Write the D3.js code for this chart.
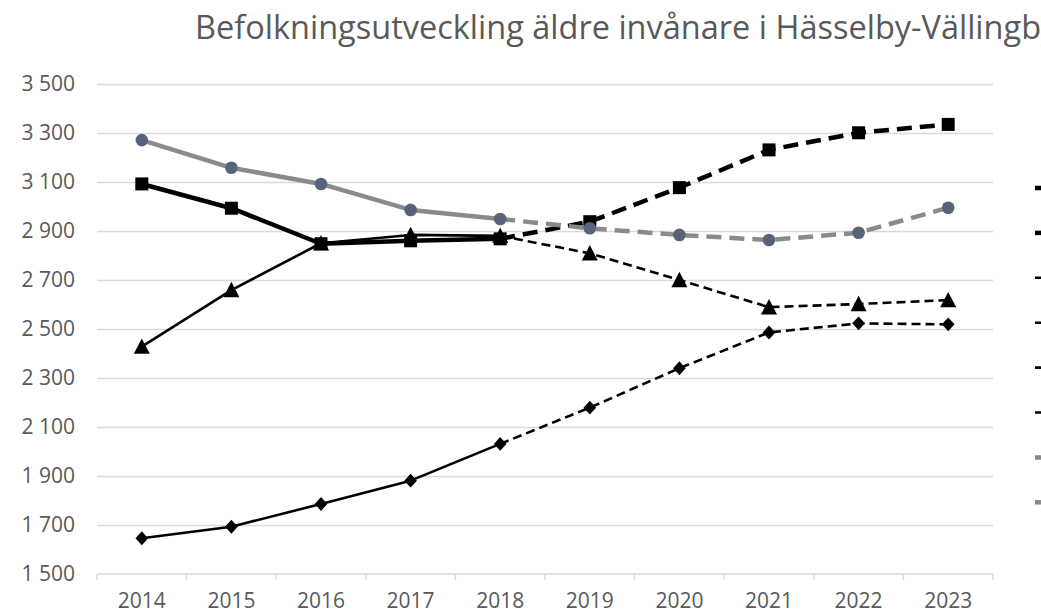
<!DOCTYPE html>
<html>
<head>
<meta charset="utf-8">
<script src="https://cdn.jsdelivr.net/npm/d3@7"></script>
<style>
  body { margin: 0; background: #fff; }
  svg { display: block; font-family: "Open Sans", sans-serif; }
</style>
</head>
<body>
<div id="chart"></div>
<script>
// data
const years = [2014, 2015, 2016, 2017, 2018, 2019, 2020, 2021, 2022, 2023];
const squareVals   = [3092, 2993, 2848, 2860, 2868, 2938, 3077, 3231, 3301, 3335];
const triangleVals = [2428, 2659, 2850, 2884, 2880, 2809, 2700, 2589, 2602, 2618];
const diamondVals  = [1646, 1693, 1786, 1881, 2031, 2179, 2340, 2486, 2523, 2519];
const circleVals   = [3271, 3158, 3092, 2986, 2949, 2911, 2884, 2863, 2893, 2995];
const yTicks = [1500, 1700, 1900, 2100, 2300, 2500, 2700, 2900, 3100, 3300, 3500];
const legendNames = ['65–69 år', '65–69 år prognos', '70–74 år', '70–74 år prognos',
                     '75–79 år', '75–79 år prognos', '80+ år', '80+ år prognos'];
const lastActual = 2018;

const width = 1041, height = 614;
const margin = { top: 84, right: 48, bottom: 40, left: 97 };

let svg = d3.select('#chart').append('svg')
    .attr('width', width)
    .attr('height', height);

let x = d3.scaleBand()
    .domain(years)
    .range([margin.left, width - margin.right]);
let y = d3.scaleLinear()
    .domain([1500, 3500])
    .range([height - margin.bottom, margin.top]);
const cx = d => x(d) + x.bandwidth() / 2;

const sv = d3.formatLocale({ thousands: ' ', grouping: [3], decimal: ',', currency: ['', ''] });

// title (runs past the right edge, as in the original)
svg.append('text')
    .attr('x', 195)
    .attr('y', 39)
    .attr('font-size', 32.5)
    .attr('fill', '#595959')
    .text('Befolkningsutveckling äldre invånare i Hässelby-Vällingby');

// gridlines
svg.append('g')
    .attr('transform', `translate(${margin.left},0)`)
    .call(d3.axisLeft(y).tickValues(yTicks.slice(1)).tickSize(-(width - margin.left - margin.right)).tickFormat(''))
    .call(g => g.select('.domain').remove())
    .call(g => g.selectAll('line').attr('stroke', '#d9d9d9').attr('stroke-width', 1.3));

// y labels
svg.append('g')
    .attr('transform', `translate(${margin.left},0)`)
    .call(d3.axisLeft(y).tickValues(yTicks).tickSize(0).tickPadding(22).tickFormat(sv.format(',')))
    .call(g => g.select('.domain').remove())
    .call(g => g.selectAll('text').attr('font-size', 21).attr('fill', '#595959').attr('font-family', '"Open Sans", sans-serif'));

// x axis baseline with ticks between categories
let xAxis = svg.append('g').attr('transform', `translate(0,${y(1500)})`);
xAxis.append('line')
    .attr('x1', margin.left).attr('x2', width - margin.right)
    .attr('stroke', '#d9d9d9').attr('stroke-width', 1.3);
xAxis.selectAll('.tk')
    .data(years.concat(['end']))
    .join('line')
    .attr('class', 'tk')
    .attr('x1', d => d === 'end' ? width - margin.right : x(d))
    .attr('x2', d => d === 'end' ? width - margin.right : x(d))
    .attr('y1', 0).attr('y2', 6)
    .attr('stroke', '#d9d9d9').attr('stroke-width', 1.3);
xAxis.selectAll('.lbl')
    .data(years)
    .join('text')
    .attr('class', 'lbl')
    .attr('x', d => cx(d))
    .attr('y', 34)
    .attr('text-anchor', 'middle')
    .attr('font-size', 21)
    .attr('fill', '#595959')
    .text(d => d);

// marker shapes
const squareSym = { draw(ctx, s) { const h = Math.sqrt(s) / 2; ctx.rect(-h, -h, 2 * h, 2 * h); } };
const diamondSym = { draw(ctx, s) {
    const w = Math.sqrt(s) / 2, hh = w * 1.1;
    ctx.moveTo(0, -hh); ctx.lineTo(w, 0); ctx.lineTo(0, hh); ctx.lineTo(-w, 0); ctx.closePath(); } };
const triSym = { draw(ctx, s) {
    const w = Math.sqrt(s) / 2, hh = w * 0.9;
    ctx.moveTo(0, -hh - 1); ctx.lineTo(w, hh); ctx.lineTo(-w, hh); ctx.closePath(); } };

const series = [
  { vals: triangleVals, color: '#000', width: 2.6, dash: '9,5', sym: triSym, size: 256, fill: '#000' },
  { vals: diamondVals, color: '#000', width: 2.6, dash: '9,5', sym: diamondSym, size: 160, fill: '#000' },
  { vals: squareVals, color: '#000', width: 4.5, dash: '15,8', sym: squareSym, size: 169, fill: '#000' },
  { vals: circleVals, color: '#8a8a8a', width: 4.5, dash: '15,8', sym: d3.symbolCircle, size: 125, fill: '#58637a' }
];

const line = d3.line().x(d => cx(d.year)).y(d => y(d.v));

series.forEach(s => {
    const pts = years.map((yr, i) => ({ year: yr, v: s.vals[i] }));
    const actual = pts.filter(d => d.year <= lastActual);
    const prog = pts.filter(d => d.year >= lastActual);
    svg.append('path').datum(actual)
        .attr('d', line).attr('fill', 'none')
        .attr('stroke', s.color).attr('stroke-width', s.width)
        .attr('stroke-linejoin', 'round');
    svg.append('path').datum(prog)
        .attr('d', line).attr('fill', 'none')
        .attr('stroke', s.color).attr('stroke-width', s.width)
        .attr('stroke-dasharray', s.dash);
    svg.selectAll(null).data(pts)
        .join('path')
        .attr('transform', d => `translate(${cx(d.year)},${y(d.v)})`)
        .attr('d', d3.symbol().type(s.sym).size(s.size))
        .attr('fill', s.fill);
});

// legend (mostly outside the visible area)
const legendStyles = [
  { color: '#000', width: 4.5, dash: null },
  { color: '#000', width: 4.5, dash: '15,8' },
  { color: '#000', width: 2.6, dash: null },
  { color: '#000', width: 2.6, dash: '9,5' },
  { color: '#000', width: 2.6, dash: null },
  { color: '#000', width: 2.6, dash: '9,5' },
  { color: '#8a8a8a', width: 4.5, dash: null },
  { color: '#8a8a8a', width: 4.5, dash: '15,8' }
];
let legend = svg.append('g').attr('transform', 'translate(1035,188)');
legendNames.forEach((name, i) => {
    const st = legendStyles[i];
    const row = legend.append('g').attr('transform', `translate(0,${i * 44.9})`);
    row.append('line')
        .attr('x1', 0).attr('x2', 40)
        .attr('stroke', st.color).attr('stroke-width', st.width)
        .attr('stroke-dasharray', st.dash);
    row.append('text')
        .attr('x', 48).attr('y', 7)
        .attr('font-size', 20).attr('fill', '#595959')
        .text(name);
});
</script>
</body>
</html>
